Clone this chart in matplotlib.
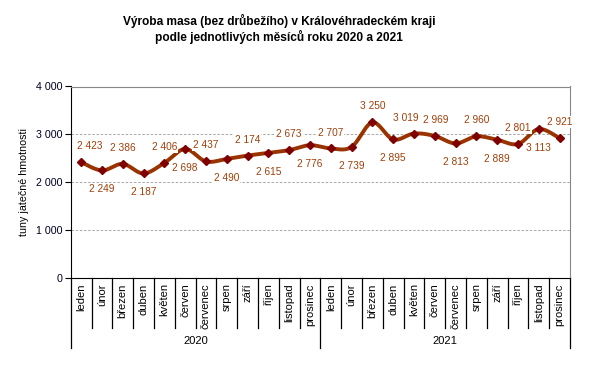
import numpy as np
import matplotlib.pyplot as plt

plt.rcParams['font.family'] = ['Liberation Sans', 'DejaVu Sans']

months = ['leden', 'únor', 'březen', 'duben', 'květen', 'červen',
          'červenec', 'srpen', 'září', 'říjen', 'listopad', 'prosinec']
years = ['2020', '2021']
values = [2423, 2249, 2386, 2187, 2406, 2698, 2437, 2490, 2560, 2615, 2673, 2776,
          2707, 2739, 3250, 2895, 3019, 2969, 2813, 2960, 2889, 2801, 3113, 2921]
label_values = [2423, 2249, 2386, 2187, 2406, 2698, 2437, 2490, 2174, 2615, 2673, 2776,
                2707, 2739, 3250, 2895, 3019, 2969, 2813, 2960, 2889, 2801, 3113, 2921]
label_side = ['a', 'b', 'a', 'b', 'a', 'b', 'a', 'b', 'a', 'b', 'a', 'b',
              'a', 'b', 'a', 'b', 'a', 'a', 'b', 'a', 'b', 'a', 'b', 'a']
yticks = [0, 1000, 2000, 3000, 4000]


def fmt(v):
    return f'{v:,}'.replace(',', ' ')


def smooth(x, y, steps=20):
    # bezier smoothing like excel (catmull-rom, tension 1/6)
    x = np.asarray(x, float)
    y = np.asarray(y, float)
    px = np.concatenate([[x[0]], x, [x[-1]]])
    py = np.concatenate([[y[0]], y, [y[-1]]])
    xs, ys = [], []
    t = np.linspace(0, 1, steps)
    for i in range(1, len(px) - 2):
        p0 = np.array([px[i], py[i]])
        p3 = np.array([px[i + 1], py[i + 1]])
        p1 = p0 + (np.array([px[i + 1], py[i + 1]]) - np.array([px[i - 1], py[i - 1]])) / 6
        p2 = p3 - (np.array([px[i + 2], py[i + 2]]) - np.array([px[i], py[i]])) / 6
        b = ((1 - t) ** 3)[:, None] * p0 + (3 * (1 - t) ** 2 * t)[:, None] * p1 \
            + (3 * (1 - t) * t ** 2)[:, None] * p2 + (t ** 3)[:, None] * p3
        xs.extend(b[:, 0])
        ys.extend(b[:, 1])
    return xs, ys


W, H = 589, 366
fig = plt.figure(figsize=(W / 100, H / 100), dpi=100)
left, right, top, bottom = 70.7, 570, 86.5, 278.3
ax = fig.add_axes([left / W, 1 - bottom / H, (right - left) / W, (bottom - top) / H])
ax_h = bottom - top

x = np.arange(len(values))
sx, sy = smooth(x, values)
ax.plot(sx, sy, color='#993300', lw=2.8, solid_capstyle='round', zorder=3)
ax.plot(x, values, ls='none', marker='D', ms=4.2, color='#800000', zorder=4)

# small sideways nudges so that neighbouring labels don't collide
nudge = {0: 6, 16: -6, 17: 1}
for xi, v, lv, s in zip(x, values, label_values, label_side):
    dy = 11.5 if s == 'a' else -13.5
    ax.annotate(fmt(lv), (xi, v), xytext=(nudge.get(xi, 0), dy), textcoords='offset points',
                ha='center', va='center', fontsize=7.3, color='#A0400A', zorder=5,
                bbox=dict(boxstyle='square,pad=0.1', fc='white', ec='none'))

ax.set_xlim(-0.5, len(values) - 0.5)
ax.set_ylim(0, 4000)
ax.set_yticks(yticks)
ax.set_yticklabels([fmt(v) for v in yticks], fontsize=7.7, color='#000022')
ax.tick_params(axis='y', direction='out', length=4, width=0.8, pad=2)
ax.set_xticks([])
for yv in yticks[1:-1]:
    ax.axhline(yv, color='#999999', lw=0.6, ls=(0, (3, 2)), zorder=1)
ax.spines['left'].set_color('black')
ax.spines['bottom'].set_color('black')
ax.spines['top'].set_color('#888888')
ax.spines['right'].set_color('#888888')
ax.set_ylabel('tuny jatečné hmotnosti', fontsize=7.7, labelpad=5)

# two level category axis
tr = ax.get_xaxis_transform()
n = len(values)
for k in range(n + 1):
    depth = 70 if k % 12 == 0 else 50
    ax.plot([k - 0.5, k - 0.5], [0, -depth / ax_h], transform=tr, color='black',
            lw=0.9, clip_on=False)
for i in range(n):
    ax.text(i, -5 / ax_h, months[i % 12], transform=tr, rotation=90, ha='center',
            va='top', fontsize=8)
for j, yr in enumerate(years):
    ax.text(j * 12 + 5.5, -62.5 / ax_h, yr, transform=tr, ha='center', va='center',
            fontsize=8)

fig.text(279 / W, 1 - 29 / H,
         'Výroba masa (bez drůbežího) v Královéhradeckém kraji\n'
         'podle jednotlivých měsíců roku 2020 a 2021',
         ha='center', va='center', fontsize=8.6, fontweight='bold', linespacing=1.2)

fig.savefig('out.png', dpi=100)
